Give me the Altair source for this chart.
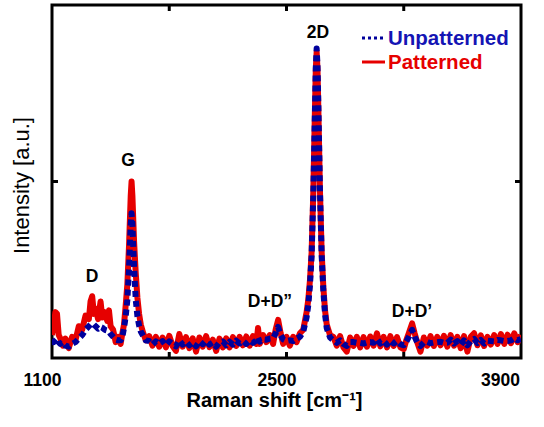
import altair as alt
import pandas as pd

# Raman shift (cm^-1)
shift = [
    1100, 1110, 1120, 1130, 1140, 1150, 1165, 1180, 1200, 1220, 1240, 1260, 1280, 1300, 1320, 1330,
    1340, 1350, 1360, 1375, 1390, 1400, 1415, 1430, 1440, 1450, 1465, 1480, 1495, 1510, 1520,
    1530, 1540, 1550, 1560, 1570, 1575, 1580, 1590, 1600, 1610, 1620, 1630, 1645, 1660,
    1680, 1700, 1720, 1740, 1760, 1780, 1800, 1820, 1840, 1860, 1880, 1900, 1920, 1940, 1960, 1980,
    2000, 2020, 2040, 2060, 2080, 2100, 2120, 2140, 2160, 2180, 2200, 2220, 2240, 2260, 2280, 2300,
    2320, 2330, 2340, 2360, 2380,
    2400, 2420, 2435, 2450, 2465, 2480, 2500, 2520, 2540, 2560, 2580,
    2600, 2620, 2630, 2640, 2650, 2660, 2670, 2675, 2680, 2685, 2690, 2700, 2710, 2720, 2730, 2740, 2760,
    2780, 2800, 2820, 2840, 2860, 2880, 2900, 2920, 2940, 2960, 2980, 3000, 3020, 3040, 3060, 3080,
    3100, 3120, 3140, 3160, 3180, 3200, 3215, 3230, 3250, 3265, 3280,
    3300, 3320, 3340, 3360, 3380, 3400, 3420, 3440, 3460, 3480, 3500, 3520, 3540, 3560, 3580, 3600,
    3620, 3640, 3660, 3680, 3700, 3720, 3740, 3760, 3780, 3800, 3820, 3840, 3860, 3880, 3900,
]

# Patterned (red, solid)
patterned = [
    6.5, 9, 13, 12.5, 6.5, 5.5, 3.5, 5.5, 2.8, 6, 5, 9, 8, 12, 11, 16,
    17.5, 12.5, 14, 11, 16, 11.5, 13, 10.5, 13.5, 9, 8, 4.5, 6, 4, 7,
    9.5, 15, 21, 32, 46, 50, 46, 33, 24, 17, 12.5, 9.5, 7, 5,
    6.2, 3.5, 6, 3.2, 5.8, 3, 6.3, 3.4, 2, 6.8, 3.2, 5.9, 2.8, 5.6, 1.8, 5.8,
    3.2, 6.2, 3.1, 5.2, 2, 5.5, 3, 5.6, 3, 5.9, 3.4, 6, 3.6, 6.1, 3.5, 6.2,
    4, 8.5, 4, 6.5, 4.5,
    6.5, 4, 8, 10.8, 7, 4, 6, 3.5, 6, 4.5, 7,
    8, 13, 16.5, 22, 30, 47, 71, 82, 86.7, 82, 71, 47, 30, 20, 13.5, 9.5, 6.5,
    6, 3.5, 6.2, 3, 1.8, 5.8, 3.4, 6, 3, 5.9, 3.2, 6.1, 3.5, 7, 3.3, 6,
    3, 6.2, 3.4, 5.9, 3, 2.5, 5, 7, 9.8, 7, 4.5,
    1.8, 5.8, 3.5, 6.2, 3.4, 6, 3.6, 6.3, 3.2, 6.5, 3.5, 6, 2.8, 6.2, 1.8, 6,
    7, 3.6, 6.4, 3.4, 6, 3.8, 6.5, 4, 6.8, 4, 6.6, 4.2, 7, 4.5, 6.5,
]

# Unpatterned (blue, dotted)
unpatterned = [
    5, 4.5, 5, 5.5, 4.5, 4, 4.5, 3.5, 3.2, 4, 4.5, 5.5, 6.5, 8, 9, 9.5,
    9.8, 9.5, 9, 8.3, 8.8, 8.6, 8, 7.8, 7.5, 6.8, 6, 5.2, 5, 5, 6,
    8.5, 11.8, 16.5, 25.7, 38, 41, 38, 25.7, 16.5, 11.8, 9.2, 7.5, 6.2, 5,
    4.8, 3.8, 4.7, 4, 4.8, 3.6, 4.7, 3.9, 3.3, 5, 3.8, 4.6, 3.6, 4.4, 3.3, 4.7,
    3.9, 4.8, 3.8, 4.4, 3.2, 4.4, 4.7, 3.6, 4.6, 3.8, 4.9, 4.1, 4.8, 4, 5, 4.3,
    5, 5.8, 4.6, 5.3, 5.2,
    5.5, 5.6, 7, 8.8, 6.5, 5.3, 4.8, 5, 4.8, 5.5, 6,
    7.5, 11.5, 15, 20.5, 29, 46, 70, 82, 87.7, 83, 72, 47, 29, 19, 12.5, 8.5, 5.8,
    5, 4.3, 5, 4, 3.4, 4.5, 4.5, 4.3, 4.3, 4.1, 4.4, 4.5, 4.3, 5.4, 4.1, 4.8,
    3.8, 4.9, 4.1, 4.8, 3.9, 3.6, 4.6, 6, 8, 6, 4.5,
    3.4, 4.4, 4.6, 4.2, 4.4, 4.5, 4.6, 4.3, 4.3, 5.2, 4.1, 4.8, 3.7, 5, 3.6, 4.8,
    5.4, 4.2, 5.1, 4.1, 4.9, 4.8, 4.7, 5.1, 5, 4.8, 4.8, 5, 5.6, 5, 5.4,
]

assert len(shift) == len(patterned) == len(unpatterned)

# Peak annotations
peak_labels = ["D", "G", "D+D\u201d", "2D", "D+D\u2019"]
peak_x = [1339, 1554, 2401, 2688, 3249]
peak_y = [22.9, 55.8, 15.9, 92.0, 13.0]

x_tick_labels = [1100, 2500, 3900]
x_minor_ticks = [1800, 2500, 3200]
y_ticks = [50]

RED = "#e60000"
BLUE_LINE = "#00009c"
BLUE_TEXT = "#1414b4"
FONT = "Liberation Sans"

W, H = 469, 353

df_red = pd.DataFrame({"shift": shift, "intensity": patterned})
df_blue = pd.DataFrame({"shift": shift, "intensity": unpatterned})
df_ann = pd.DataFrame({"shift": peak_x, "intensity": peak_y, "label": peak_labels})
df_xt = pd.DataFrame({"shift": x_minor_ticks})
df_yt = pd.DataFrame({"intensity": y_ticks})
df_one = pd.DataFrame({"k": [0]})

X = alt.X(
    "shift:Q",
    scale=alt.Scale(domain=[1100, 3900], nice=False, zero=False),
    axis=alt.Axis(
        values=x_tick_labels, format="d", labelFont=FONT, labelFontSize=17.5, labelFontWeight="bold",
        labelColor="black", labelFlush=False,
        labelOffset={"condition": {"test": "datum.value >= 3900", "value": -21}, "value": -10},
        labelPadding=13,
        ticks=False, tickSize=0, domain=False, grid=False,
        title="Raman shift [cm\u207b\u00b9]", titleFont=FONT, titleFontSize=20,
        titleFontWeight="bold", titleColor="black", titleX=222, titleY=48,
        titleBaseline="alphabetic", titleAlign="center",
    ),
)
Y = alt.Y(
    "intensity:Q",
    scale=alt.Scale(domain=[0, 100], nice=False, zero=False),
    axis=alt.Axis(
        labels=False, ticks=False, domain=False, grid=False,
        title="Intensity [a.u.]", titleFont=FONT, titleFontSize=22,
        titleFontWeight="normal", titleColor="black", titleX=-31, titleY=180,
        titleBaseline="middle", titleAlign="center",
    ),
)

red_line = alt.Chart(df_red).mark_line(
    color=RED, strokeWidth=6, strokeJoin="round", clip=True
).encode(x=X, y=Y, order="shift:Q")

blue_line = alt.Chart(df_blue).mark_line(
    color=BLUE_LINE, strokeWidth=6, strokeDash=[6, 4], strokeCap="butt", strokeJoin="round", clip=True
).encode(x=X, y=Y, order="shift:Q")

ann = alt.Chart(df_ann).mark_text(
    font=FONT, fontSize=17.5, fontWeight="bold", color="black", baseline="middle", align="center"
).encode(x=X, y=Y, text="label:N")

top_ticks = alt.Chart(df_xt).mark_rule(color="black", strokeWidth=3).encode(
    x=X, y=alt.value(0), y2=alt.value(6))
bot_ticks = alt.Chart(df_xt).mark_rule(color="black", strokeWidth=3).encode(
    x=X, y=alt.value(H - 6), y2=alt.value(H))
left_ticks = alt.Chart(df_yt).mark_rule(color="black", strokeWidth=3).encode(
    y=Y, x=alt.value(0), x2=alt.value(6))
right_ticks = alt.Chart(df_yt).mark_rule(color="black", strokeWidth=3).encode(
    y=Y, x=alt.value(W - 6), x2=alt.value(W))

leg_blue_sym = alt.Chart(df_one).mark_rule(
    color=BLUE_LINE, strokeWidth=3, strokeDash=[3, 3], strokeCap="butt"
).encode(x=alt.value(310), x2=alt.value(332), y=alt.value(33))
leg_red_sym = alt.Chart(df_one).mark_rule(color=RED, strokeWidth=3).encode(
    x=alt.value(310), x2=alt.value(333), y=alt.value(57))
leg_blue_txt = alt.Chart(df_one).mark_text(
    text="Unpatterned", font=FONT, fontSize=20.5, fontWeight="bold", color=BLUE_TEXT,
    align="left", baseline="middle"
).encode(x=alt.value(336), y=alt.value(33.5))
leg_red_txt = alt.Chart(df_one).mark_text(
    text="Patterned", font=FONT, fontSize=20.5, fontWeight="bold", color=RED,
    align="left", baseline="middle"
).encode(x=alt.value(336), y=alt.value(57.5))

chart = alt.layer(
    red_line, blue_line, ann, top_ticks, bot_ticks, left_ticks, right_ticks,
    leg_blue_sym, leg_red_sym, leg_blue_txt, leg_red_txt,
).properties(
    width=W, height=H, autosize="none",
    padding={"left": 52, "top": 5, "right": 23, "bottom": 69},
    background="white",
).configure_view(stroke="black", strokeWidth=3)

chart.save("out.html", embed_options={"renderer": "svg", "actions": False})
